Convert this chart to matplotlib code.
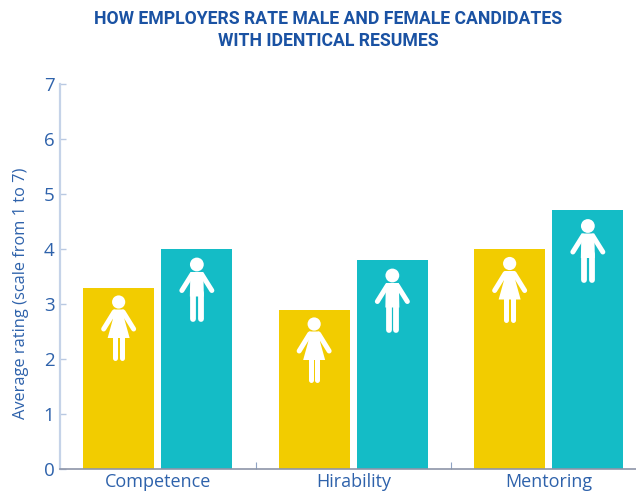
import matplotlib
matplotlib.use("Agg")
import matplotlib.pyplot as plt
from matplotlib.path import Path
from matplotlib.patches import Circle, PathPatch, Polygon
from matplotlib.transforms import Affine2D, ScaledTranslation
import numpy as np

categories = ["Competence", "Hirability", "Mentoring"]
female = [3.3, 2.9, 4.0]
male = [4.0, 3.8, 4.7]
y_ticks = [0, 1, 2, 3, 4, 5, 6, 7]

YELLOW = "#f2cc00"
TEAL = "#14bcc6"
BLUE = "#2e62ab"
TITLE_BLUE = "#1a52a3"

plt.rcParams["font.family"] = ["Open Sans", "DejaVu Sans"]

W, H = 636, 491
fig = plt.figure(figsize=(W / 100, H / 100), dpi=100)
# the x axis runs off the right edge of the figure
ax = fig.add_axes([60 / W, 22 / H, 586.5 / W, 385 / H])

x = np.arange(len(categories))
ax.bar(x - 0.2, female, width=0.363, color=YELLOW)
ax.bar(x + 0.2, male, width=0.363, color=TEAL)

ax.set_xlim(-0.5, 2.5)
ax.set_ylim(0, 7)
ax.set_yticks(y_ticks)
ax.set_xticks(x)
ax.set_xticklabels(categories)
ax.set_xticks([0.5, 1.5], minor=True)

ax.tick_params(axis="y", direction="in", length=4, width=1, color="#b9c9e2",
               labelsize=13.5, labelcolor=BLUE, pad=4)
ax.tick_params(axis="x", which="major", length=0, labelsize=13, labelcolor=BLUE, pad=3)
ax.tick_params(axis="x", which="minor", direction="in", length=5, width=0.8, color="#8fa3c4")

ax.spines["top"].set_visible(False)
ax.spines["right"].set_visible(False)
ax.spines["left"].set_color("#c5d3e8")
ax.spines["left"].set_linewidth(1.6)
ax.spines["bottom"].set_color("#8d95a8")
ax.spines["bottom"].set_linewidth(1.2)

fig.text(21 / W, 1 - 293 / H, "Average rating (scale from 1 to 7)", rotation=90,
         ha="center", va="center", fontsize=11.8, color=BLUE)

fig.text(328 / W, 1 - 19 / H, "HOW EMPLOYERS RATE MALE AND FEMALE CANDIDATES",
         ha="center", va="center", fontsize=12.7, fontweight="bold", color=TITLE_BLUE,
         family=["Liberation Sans Narrow", "Roboto"])
fig.text(328 / W, 1 - 41 / H, "WITH IDENTICAL RESUMES",
         ha="center", va="center", fontsize=12.7, fontweight="bold", color=TITLE_BLUE,
         family=["Liberation Sans Narrow", "Roboto"])


def place(bar_x, value, drop):
    # pixel offsets from the top of a bar, y pointing down from the head centre
    return (Affine2D().scale(1, -1).translate(0, -drop)
            + ScaledTranslation(bar_x, value, ax.transData))


def limb(tr, pts, width):
    codes = [Path.MOVETO] + [Path.LINETO] * (len(pts) - 1)
    ax.add_patch(PathPatch(Path(pts, codes), fill=False, ec="white", lw=width * 0.72,
                           capstyle="round", joinstyle="round", transform=tr, clip_on=False))


def draw_woman(bar_x, value):
    tr = place(bar_x, value, 14.5)
    ax.add_patch(Circle((0, 0), 6.6, fc="white", ec="none", transform=tr))
    ax.add_patch(Polygon([(-5, 7.5), (5, 7.5), (6, 18), (11, 36), (-11, 36), (-6, 18)],
                         closed=True, fc="white", ec="none", transform=tr))
    limb(tr, [(-4.5, 10), (-15, 27)], 5)
    limb(tr, [(4.5, 10), (15, 27)], 5)
    limb(tr, [(-3.2, 34), (-3.2, 56)], 5)
    limb(tr, [(3.2, 34), (3.2, 56)], 5)


def draw_man(bar_x, value):
    tr = place(bar_x, value, 15.5)
    ax.add_patch(Circle((0, 0), 6.9, fc="white", ec="none", transform=tr))
    ax.add_patch(Polygon([(-6.5, 7.5), (6.5, 7.5), (7, 32), (-7, 32)],
                         closed=True, fc="white", ec="none", transform=tr))
    limb(tr, [(-5, 10), (-15, 26)], 5)
    limb(tr, [(5, 10), (15, 26)], 5)
    limb(tr, [(-3.7, 28), (-3.7, 54)], 5.8)
    limb(tr, [(3.7, 28), (3.7, 54)], 5.8)


for xi, f, m in zip(x, female, male):
    draw_woman(xi - 0.2, f)
    draw_man(xi + 0.2, m)

fig.savefig("out.png", dpi=100)
